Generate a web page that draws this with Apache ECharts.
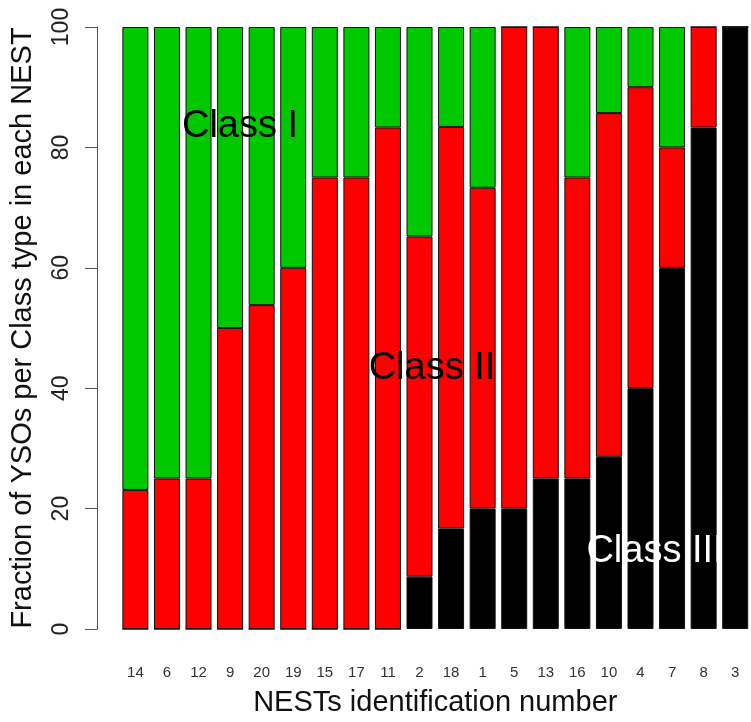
<!DOCTYPE html>
<html>
<head>
<meta charset="utf-8">
<script src="https://cdn.jsdelivr.net/npm/echarts@6/dist/echarts.min.js"></script>
<style>
  html, body { margin: 0; padding: 0; background: #fff; }
  #chart { width: 751px; height: 722px; }
</style>
</head>
<body>
<div id="chart"></div>
<script>
// NEST identifiers, in plotted order
const nests = ['14','6','12','9','20','19','15','17','11','2','18','1','5','13','16','10','4','7','8','3'];
// Percentage of YSOs of each class in every NEST
const classIII = [0,0,0,0,0,0,0,0,0,8.7,16.7,20,20,25,25,28.6,40,60,83.3,100];
const classII  = [23.1,25,25,50,53.8,60,75,75,83.3,56.5,66.7,53.3,80,75,50,57.1,50,20,16.7,0];
const classI   = [76.9,75,75,50,46.2,40,25,25,16.7,34.8,16.6,26.7,0,0,25,14.3,10,20,0,0];
const yTicks = [0, 20, 40, 60, 80, 100];

const FONT = 'Liberation Sans, Arial, Helvetica, sans-serif';
const chart = echarts.init(document.getElementById('chart'), null, { renderer: 'canvas' });

function barSeries(name, data, color) {
  return {
    name: name,
    type: 'bar',
    stack: 'total',
    data: data,
    barWidth: 26,
    itemStyle: { color: color, borderColor: '#111', borderWidth: 1 },
    emphasis: { disabled: true },
    animation: false
  };
}

chart.setOption({
  backgroundColor: '#ffffff',
  animation: false,
  grid: { left: 119.6, top: 27, width: 638, height: 608, containLabel: false },
  xAxis: {
    type: 'category',
    data: nests,
    axisLine: { show: false },
    axisTick: { show: false },
    axisLabel: { fontFamily: FONT, fontSize: 15, color: '#333', margin: 36, interval: 0 },
    name: 'NESTs identification number',
    nameLocation: 'middle',
    nameGap: 59,
    nameTextStyle: { fontFamily: FONT, fontSize: 29, color: '#111' }
  },
  yAxis: {
    type: 'value',
    min: yTicks[0],
    max: yTicks[yTicks.length - 1],
    interval: 20,
    offset: 22.6,
    splitLine: { show: false },
    axisLine: { show: true, lineStyle: { color: '#555', width: 1 } },
    axisTick: { show: true, length: 12, lineStyle: { color: '#555', width: 1 } },
    axisLabel: { fontFamily: FONT, fontSize: 23, color: '#222', rotate: 90, margin: 24 },
    name: 'Fraction of YSOs per Class type in each NEST',
    nameLocation: 'middle',
    nameRotate: 90,
    nameGap: 60,
    nameTextStyle: { fontFamily: FONT, fontSize: 29, color: '#111' }
  },
  series: [
    barSeries('Class III', classIII, '#000000'),
    barSeries('Class II', classII, '#ff0000'),
    barSeries('Class I', classI, '#00c800')
  ],
  graphic: [
    { type: 'text', x: 240, y: 127, z: 100,
      style: { text: 'Class I', fill: '#000', fontFamily: FONT, fontSize: 38, align: 'center', verticalAlign: 'middle' } },
    { type: 'text', x: 432, y: 369, z: 100,
      style: { text: 'Class II', fill: '#000', fontFamily: FONT, fontSize: 38, align: 'center', verticalAlign: 'middle' } },
    { type: 'text', x: 655, y: 552, z: 100,
      style: { text: 'Class III', fill: '#fff', fontFamily: FONT, fontSize: 38, align: 'center', verticalAlign: 'middle' } }
  ]
});
</script>
</body>
</html>
